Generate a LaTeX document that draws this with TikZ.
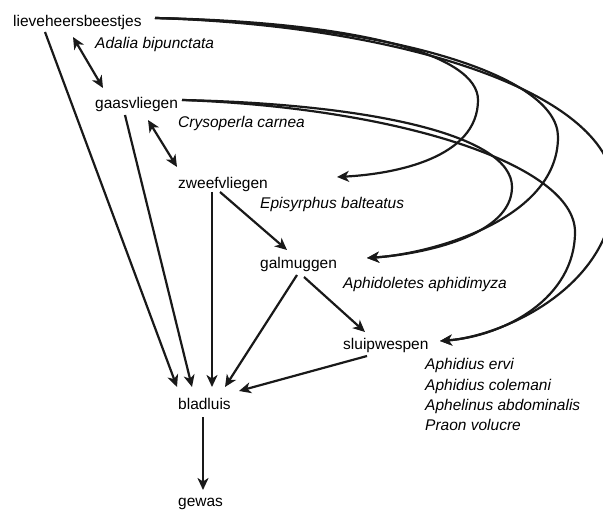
\documentclass[tikz,border=0pt]{standalone}
\usepackage{fontspec}
\setmainfont{Liberation Sans}
\usetikzlibrary{arrows.meta}
\begin{document}
\begin{tikzpicture}[x=1pt,y=-1pt,
  lbl/.style={anchor=base west,inner sep=0pt,font=\fontsize{15.5}{19}\selectfont},
  sp/.style={lbl,font=\fontsize{15.5}{19}\selectfont\itshape},
  tip/.tip={Stealth[length=12pt,width=11pt,inset=3.5pt]},
  con/.style={line width=2.2pt,color=black!90,-tip},
  bicon/.style={con,tip-tip}]
\useasboundingbox (0,0) rectangle (603,513);
% nodes
\node[lbl] (lieve) at (13,27) {lieveheersbeestjes};
\node[sp] (adalia) at (95,49) {Adalia bipunctata};
\node[lbl] (gaas) at (95,109) {gaasvliegen};
\node[sp] (crys) at (178,128) {Crysoperla carnea};
\node[lbl] (zweef) at (178,189) {zweefvliegen};
\node[sp] (epi) at (260,209) {Episyrphus balteatus};
\node[lbl] (galm) at (260,269) {galmuggen};
\node[sp] (aphid) at (343,289) {Aphidoletes aphidimyza};
\node[lbl] (sluip) at (343,349) {sluipwespen};
\node[sp] (p1) at (425,370) {Aphidius ervi};
\node[sp] (p2) at (425,390) {Aphidius colemani};
\node[sp] (p3) at (425,410) {Aphelinus abdominalis};
\node[sp] (p4) at (425,430) {Praon volucre};
\node[lbl] (blad) at (178,409) {bladluis};
\node[lbl] (gewas) at (178,506) {gewas};
% straight connectors
\draw[bicon] ([shift={(60,10)}]lieve.base west) -- ([shift={(8,-21)}]gaas.base west);
\draw[bicon] ([shift={(53,11)}]gaas.base west) -- ([shift={(-1,-22)}]zweef.base west);
\draw[con] ([shift={(32,5)}]lieve.base west) -- ([shift={(-1,-22)}]blad.base west);
\draw[con] ([shift={(30,6)}]gaas.base west) -- ([shift={(14,-22)}]blad.base west);
\draw[con] ([shift={(34,3)}]zweef.base west) -- ([shift={(34,-22)}]blad.base west);
\draw[con] ([shift={(37,6)}]galm.base west) -- ([shift={(47,-22)}]blad.base west);
\draw[con] ([shift={(42,3)}]zweef.base west) -- ([shift={(27,-19)}]galm.base west);
\draw[con] ([shift={(44,8)}]galm.base west) -- ([shift={(22,-17)}]sluip.base west);
\draw[con] ([shift={(24,7)}]sluip.base west) -- ([shift={(61,-18)}]blad.base west);
\draw[con] ([shift={(25,8)}]blad.base west) -- ([shift={(25,-16)}]gewas.base west);
% curved connectors
\draw[con] ([shift={(142,-9)}]lieve.base west) .. controls (360,22) and (478,55) .. (478,100)
  .. controls (478,158) and (395,174) .. ([shift={(159,-12)}]zweef.base west);
\draw[con] ([shift={(142,-9)}]lieve.base west) .. controls (390,24) and (558,75) .. (558,137)
  .. controls (558,220) and (430,254) .. ([shift={(107,-11)}]galm.base west);
\draw[con] ([shift={(142,-9)}]lieve.base west) .. controls (410,26) and (614,95) .. (614,190)
  .. controls (614,285) and (505,336) .. ([shift={(97,-8)}]sluip.base west);
\draw[con] ([shift={(87,-9)}]gaas.base west) .. controls (370,104) and (512,135) .. (512,187)
  .. controls (512,235) and (425,254) .. ([shift={(107,-11)}]galm.base west);
\draw[con] ([shift={(87,-9)}]gaas.base west) .. controls (400,108) and (575,165) .. (575,232)
  .. controls (575,298) and (505,336) .. ([shift={(97,-8)}]sluip.base west);
\end{tikzpicture}
\end{document}
